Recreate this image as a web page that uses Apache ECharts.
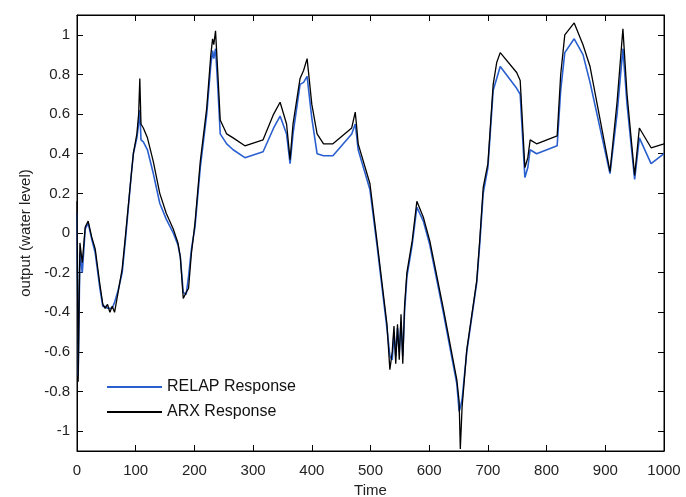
<!DOCTYPE html>
<html lang="en">
<head>
<meta charset="UTF-8">
<title>RELAP vs ARX</title>
<script src="https://cdn.jsdelivr.net/npm/echarts@6/dist/echarts.min.js"></script>
<style>
  html, body { margin: 0; padding: 0; background: #fff; }
  #container { width: 686px; height: 497px; }
</style>
</head>
<body>
<div id="container"></div>
<script type="text/javascript">
// sample times (x axis)
var times = [0, 2, 5, 9, 14, 19, 25, 31, 39, 44, 48, 52, 56, 60, 64, 70, 77, 83, 92, 96,
  102, 105, 107, 109, 113, 120, 130, 141, 152, 164, 172, 176, 181, 186, 190, 195, 201, 210, 221, 228,
  231, 233, 236, 240, 244, 255, 266, 286, 317, 335, 346, 357, 363, 368, 380, 386, 392, 400, 409, 420,
  436, 468, 474, 476, 479, 499, 511, 528, 533, 537, 540, 543, 546, 549, 552, 555, 558, 562, 571, 579,
  590, 601, 624, 647, 651, 653, 656, 664, 681, 686, 692, 700, 709, 715, 721, 749, 755, 763, 768, 772,
  783, 818, 824, 831, 847, 862, 874, 908, 920, 930, 937, 950, 958, 978, 1000];

// ARX response (black)
var arx = [0.16, -0.75, -0.05, -0.15, 0.03, 0.06, -0.02, -0.08, -0.26, -0.36, -0.38, -0.36, -0.40, -0.37, -0.40, -0.30, -0.18, 0.0, 0.28, 0.40,
  0.50, 0.60, 0.78, 0.55, 0.53, 0.48, 0.36, 0.20, 0.10, 0.02, -0.05, -0.12, -0.33, -0.30, -0.28, -0.10, 0.05, 0.36, 0.63, 0.90,
  0.98, 0.95, 1.02, 0.80, 0.57, 0.50, 0.48, 0.44, 0.47, 0.60, 0.66, 0.55, 0.37, 0.55, 0.78, 0.82, 0.88, 0.65, 0.50, 0.45,
  0.45, 0.53, 0.61, 0.55, 0.45, 0.25, -0.04, -0.46, -0.69, -0.60, -0.47, -0.66, -0.46, -0.64, -0.41, -0.66, -0.37, -0.20, -0.04, 0.16,
  0.08, -0.04, -0.38, -0.74, -0.85, -1.09, -0.88, -0.59, -0.24, -0.04, 0.23, 0.35, 0.75, 0.86, 0.91, 0.81, 0.77, 0.33, 0.38, 0.47,
  0.45, 0.49, 0.80, 1.00, 1.06, 0.95, 0.84, 0.31, 0.66, 1.03, 0.70, 0.29, 0.53, 0.43, 0.45];

// RELAP response (blue)
var relap = [0.10, -0.72, -0.10, -0.20, 0.02, 0.05, -0.03, -0.10, -0.28, -0.37, -0.37, -0.38, -0.38, -0.38, -0.35, -0.29, -0.20, -0.02, 0.28, 0.40,
  0.48, 0.55, 0.62, 0.47, 0.46, 0.42, 0.30, 0.15, 0.07, 0.0, -0.06, -0.12, -0.30, -0.31, -0.22, -0.08, 0.03, 0.33, 0.60, 0.85,
  0.92, 0.88, 0.93, 0.73, 0.50, 0.45, 0.42, 0.38, 0.41, 0.53, 0.59, 0.50, 0.35, 0.50, 0.75, 0.76, 0.79, 0.58, 0.40, 0.39,
  0.39, 0.50, 0.55, 0.50, 0.42, 0.22, -0.06, -0.48, -0.62, -0.64, -0.50, -0.62, -0.48, -0.60, -0.45, -0.62, -0.40, -0.22, -0.06, 0.13,
  0.06, -0.06, -0.40, -0.76, -0.90, -0.88, -0.84, -0.60, -0.25, -0.06, 0.20, 0.33, 0.72, 0.78, 0.84, 0.73, 0.70, 0.28, 0.33, 0.42,
  0.40, 0.44, 0.72, 0.91, 0.98, 0.90, 0.76, 0.30, 0.60, 0.93, 0.65, 0.27, 0.48, 0.35, 0.40];

var yTicks = [-1, -0.8, -0.6, -0.4, -0.2, 0, 0.2, 0.4, 0.6, 0.8, 1];
var seriesNames = ['RELAP Response', 'ARX Response'];

function pairs(vals) {
  return times.map(function (t, i) { return [t, vals[i]]; });
}

var font = 'Liberation Sans, Arial, sans-serif';

function xAxisDef(pos, showLabel) {
  return {
    type: 'value', position: pos, min: 0, max: 1000, interval: 100,
    axisLine: { show: true, onZero: false, lineStyle: { color: '#000', width: 1 } },
    axisTick: { show: true, inside: true, length: 6, lineStyle: { color: '#000', width: 1 } },
    axisLabel: { show: showLabel, color: '#222', fontSize: 15, fontFamily: font, margin: 12,
      formatter: function (v) { return String(v); } },
    splitLine: { show: false },
    name: showLabel ? 'Time' : '', nameLocation: 'middle', nameGap: 31,
    nameTextStyle: { color: '#222', fontSize: 15, fontFamily: font }
  };
}
function yAxisDef(pos, showLabel) {
  return {
    type: 'value', position: pos, min: -1.1, max: 1.1,
    axisLine: { show: true, onZero: false, lineStyle: { color: '#000', width: 1 } },
    axisTick: { show: true, inside: true, length: 6, customValues: yTicks, lineStyle: { color: '#000', width: 1 } },
    axisLabel: { show: showLabel, customValues: yTicks, color: '#222', fontSize: 15, fontFamily: font, margin: 7 },
    splitLine: { show: false },
    name: showLabel ? 'output (water level)' : '', nameLocation: 'middle', nameGap: 44,
    nameTextStyle: { color: '#222', fontSize: 15, fontFamily: font }
  };
}

var chart = echarts.init(document.getElementById('container'), null, { renderer: 'canvas' });
chart.setOption({
  animation: false,
  backgroundColor: '#fff',
  grid: { left: 77, right: 22, top: 15, bottom: 46, show: true, borderColor: '#000', borderWidth: 1,
    containLabel: false, outerBoundsMode: 'none' },
  legend: {
    orient: 'vertical', left: 102, top: 374, itemGap: 9,
    icon: 'rect', itemWidth: 55, itemHeight: 2,
    textStyle: { color: '#111', fontSize: 16, fontFamily: font },
    data: seriesNames
  },
  xAxis: [xAxisDef('bottom', true), xAxisDef('top', false)],
  yAxis: [yAxisDef('left', true), yAxisDef('right', false)],
  series: [
    {
      name: seriesNames[0], type: 'line', xAxisIndex: 0, yAxisIndex: 0,
      data: pairs(relap), showSymbol: false, symbol: 'none',
      lineStyle: { color: '#2a5fd0', width: 1.6 }, itemStyle: { color: '#2a5fd0' }
    },
    {
      name: seriesNames[1], type: 'line', xAxisIndex: 0, yAxisIndex: 0,
      data: pairs(arx), showSymbol: false, symbol: 'none',
      lineStyle: { color: '#000', width: 1.3 }, itemStyle: { color: '#000' }
    }
  ]
});
</script>
</body>
</html>
